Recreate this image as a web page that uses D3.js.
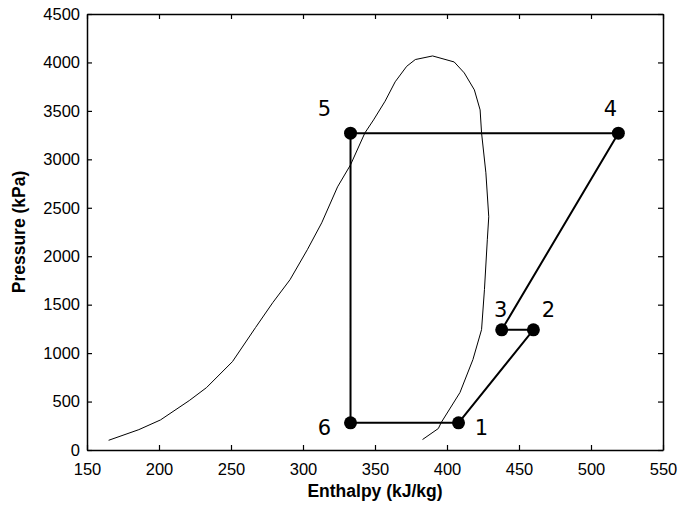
<!DOCTYPE html>
<html><head><meta charset="utf-8">
<script src="https://cdn.jsdelivr.net/npm/d3@7"></script>
<style>body{margin:0;background:#fff}svg{display:block}</style>
</head><body>
<script>
// Saturation dome (enthalpy kJ/kg, pressure kPa)
const domeH = [165,186,201,221,233,251,267,279,291,303,313,324,333,343,349,357,364,372,378,390,405,412,419,423,424,427,429,428,426,424,418,409,396,394,383];
const domeP = [100,210,310,510,644,912,1263,1521,1758,2067,2345,2716,2943,3273,3407,3600,3800,3960,4030,4067,4005,3892,3717,3510,3273,2861,2407,2170,1655,1242,933,593,284,222,108];
// Cycle states
const stateLabels = ["1","2","3","4","5","6"];
const stateH = [408,460,438,519,333,333];
const stateP = [280,1240,1240,3270,3270,280];
const xTicks = [150,200,250,300,350,400,450,500,550];
const yTicks = [0,500,1000,1500,2000,2500,3000,3500,4000,4500];

const W=684,H=507;
const m={l:87,r:21,t:14,b:57};
const svg=d3.select("body").append("svg").attr("width",W).attr("height",H);
const x=d3.scaleLinear().domain([150,550]).range([m.l,W-m.r]);
const y=d3.scaleLinear().domain([0,4500]).range([H-m.b,m.t]);
const font="'Liberation Sans', Arial, sans-serif";
const fmt=d3.format("d");

// axes with inward ticks
const ax=(g,a)=>g.call(a).call(s=>s.select(".domain").attr("stroke-width",1.5)).call(s=>s.selectAll("line").attr("stroke-width",1.2));
ax(svg.append("g").attr("transform",`translate(0,${y(0)})`),d3.axisBottom(x).tickValues(xTicks).tickFormat(fmt).tickSizeInner(-5).tickSizeOuter(0).tickPadding(13))
  .selectAll("text").attr("font-family",font).attr("font-size",16.5).attr("fill","#000");
ax(svg.append("g").attr("transform",`translate(${x(150)},0)`),d3.axisLeft(y).tickValues(yTicks).tickFormat(fmt).tickSizeInner(-5).tickSizeOuter(0).tickPadding(7))
  .selectAll("text").attr("font-family",font).attr("font-size",16.5).attr("fill","#000");
ax(svg.append("g").attr("transform",`translate(0,${y(4500)})`),d3.axisTop(x).tickValues(xTicks).tickSizeInner(-5).tickSizeOuter(0).tickFormat(""));
ax(svg.append("g").attr("transform",`translate(${x(550)},0)`),d3.axisRight(y).tickValues(yTicks).tickSizeInner(-5).tickSizeOuter(0).tickFormat(""));

// titles
svg.append("text").attr("x",(x(150)+x(550))/2).attr("y",497).attr("text-anchor","middle")
  .attr("font-family",font).attr("font-weight","bold").attr("font-size",17.5).text("Enthalpy (kJ/kg)");
svg.append("text").attr("transform",`translate(25,${(y(0)+y(4500))/2}) rotate(-90)`).attr("text-anchor","middle")
  .attr("font-family",font).attr("font-weight","bold").attr("font-size",17.5).text("Pressure (kPa)");

// dome
const line=d3.line().x(d=>x(d[0])).y(d=>y(d[1]));
svg.append("path").datum(domeH.map((h,i)=>[h,domeP[i]])).attr("d",line)
  .attr("fill","none").attr("stroke","#000").attr("stroke-width",1);

// cycle
const pts=stateH.map((h,i)=>[h,stateP[i]]);
svg.append("path").datum([...pts,pts[0]]).attr("d",line)
  .attr("fill","none").attr("stroke","#000").attr("stroke-width",2);
svg.selectAll("circle.st").data(pts).join("circle").attr("cx",d=>x(d[0])).attr("cy",d=>y(d[1])).attr("r",6.5).attr("fill","#000");

// labels offsets (pixels)
const off=[[23,12],[15,-13],[-1,-13],[-8,-17],[-26,-17],[-26,12]];
svg.selectAll("text.lab").data(pts).join("text").attr("class","lab")
  .attr("x",(d,i)=>x(d[0])+off[i][0]).attr("y",(d,i)=>y(d[1])+off[i][1])
  .attr("text-anchor","middle").attr("font-family","'DejaVu Sans', sans-serif").attr("font-size",21)
  .text((d,i)=>stateLabels[i]);
</script>
</body></html>
